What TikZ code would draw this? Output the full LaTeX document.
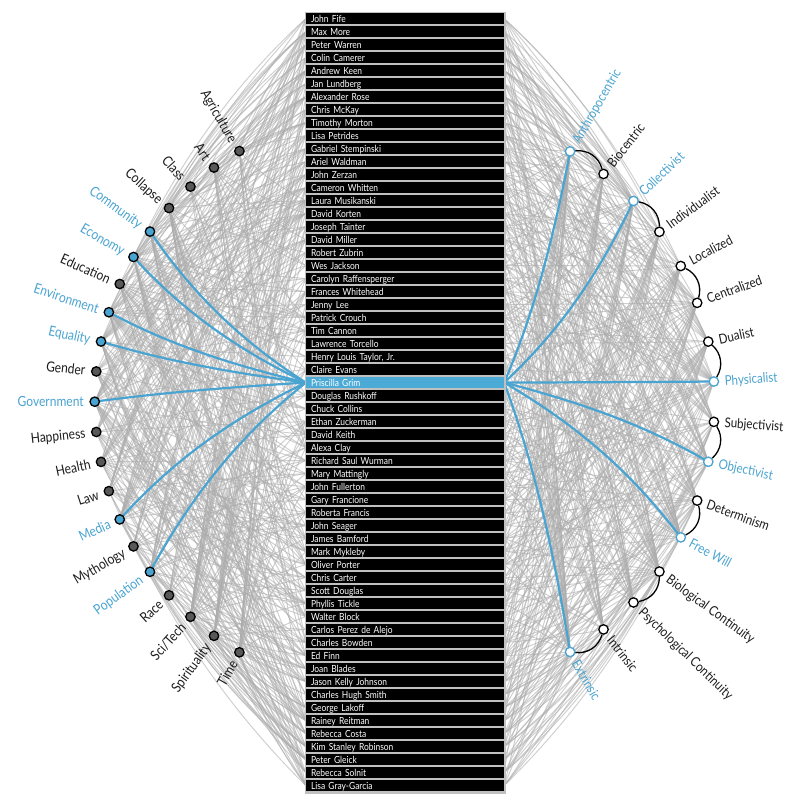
\documentclass[tikz,border=0pt]{standalone}
\usepackage{fontspec}
\setmainfont{Lato}[FakeStretch=0.86]
\usetikzlibrary{calc,backgrounds}
\definecolor{hub}{RGB}{74,164,209}
\definecolor{rowblue}{RGB}{76,170,214}
\definecolor{dotgrey}{RGB}{88,88,88}
\definecolor{ink}{RGB}{28,28,28}
\definecolor{framegrey}{RGB}{192,192,192}
\newcommand\edgelink[3]{\draw[#3] let \p1=(#1), \p2=(#2) in (\p1) .. controls ({\x1+0.28*(\x2-\x1)},{\y1+0.42*(\y2-\y1)}) and ({\x2-0.42*(\x2-\x1)},{\y2-0.28*(\y2-\y1)}) .. (\p2);}
\begin{document}
\begin{tikzpicture}[x=1pt,y=1pt,
  greyedge/.style={draw=black!32, line width=0.95pt, opacity=0.58},
  blueedge/.style={draw=hub, line width=2.2pt},
  rowbox/.style={text=white, minimum width=198pt, minimum height=11.4pt, text width=188pt, align=left, inner xsep=5pt, inner ysep=0pt, text height=6.9pt, text depth=0pt, font=\fontsize{9.8}{11}\selectfont},
  ldot/.style={circle, draw=black, line width=1.3pt, minimum size=9.4pt, inner sep=0pt},
  rdot/.style={circle, fill=white, line width=1.3pt, minimum size=9.4pt, inner sep=0pt},
  tlabel/.style={inner sep=0pt, text height=10pt, text depth=0pt, font=\fontsize{14}{16}\selectfont},
  rlabel/.style={inner sep=0pt, text height=9.6pt, text depth=0pt, font=\fontsize{13.5}{16}\selectfont},
  pairarc/.style={draw=black, line width=1.3pt}
]
\useasboundingbox (0,0) rectangle (805,806);
\def\CLx{384.1}\def\CRx{425.6}\def\Cy{404.3}
% name column
\fill[framegrey] (304.5,794) rectangle (505.5,12);
\foreach \nm [count=\i] in {John Fife, Max More, Peter Warren, Colin Camerer, Andrew Keen, Jan Lundberg, Alexander Rose, Chris McKay, Timothy Morton, Lisa Petrides, Gabriel Stempinski, Ariel Waldman, John Zerzan, Cameron Whitten, Laura Musikanski, David Korten, Joseph Tainter, David Miller, Robert Zubrin, Wes Jackson, Carolyn Raffensperger, Frances Whitehead, Jenny Lee, Patrick Crouch, Tim Cannon, Lawrence Torcello, {Henry Louis Taylor, Jr.}, Claire Evans, Priscilla Grim, Douglas Rushkoff, Chuck Collins, Ethan Zuckerman, David Keith, Alexa Clay, Richard Saul Wurman, Mary Mattingly, John Fullerton, Gary Francione, Roberta Francis, John Seager, James Bamford, Mark Mykleby, Oliver Porter, Chris Carter, Scott Douglas, Phyllis Tickle, Walter Block, Carlos Perez de Alejo, Charles Bowden, Ed Finn, Joan Blades, Jason Kelly Johnson, Charles Hugh Smith, George Lakoff, Rainey Reitman, Rebecca Costa, Kim Stanley Robinson, Peter Gleick, Rebecca Solnit, Lisa Gray-Garcia}{
  \pgfmathsetmacro\yy{787.4-13*(\i-1)}
  \ifnum\i=29 \def\rf{rowblue}\else\def\rf{black}\fi
  \node[rowbox, fill=\rf] (n\i) at (405,\yy) {\nm};
}
% left topics
\foreach \lab/\fc/\tc [count=\kk from 0] in {Agriculture/dotgrey/ink, Art/dotgrey/ink, Class/dotgrey/ink, Collapse/dotgrey/ink, Community/hub/hub, Economy/hub/hub, Education/dotgrey/ink, Environment/hub/hub, Equality/hub/hub, Gender/dotgrey/ink, Government/hub/hub, Happiness/dotgrey/ink, Health/dotgrey/ink, Law/dotgrey/ink, Media/hub/hub, Mythology/dotgrey/ink, Population/hub/hub, Race/dotgrey/ink, {Sci/Tech}/dotgrey/ink, Spirituality/dotgrey/ink, Time/dotgrey/ink}{
  \pgfmathsetmacro\ang{120+6*\kk}
  \node[ldot, fill=\fc] (t\kk) at ($(\CLx,\Cy)+(\ang:289.4)$) {};
  \node[tlabel, text=\tc, anchor=east, rotate=\ang-180] (tl\kk) at ($(\CLx,\Cy)+(\ang:300.2)$) {\lab};
}
% right topics
\foreach \lab/\sc/\tc [count=\jj from 0] in {Anthropocentric/hub/hub, Biocentric/black/ink, Collectivist/hub/hub, Individualist/black/ink, Localized/black/ink, Centralized/black/ink, Dualist/black/ink, Physicalist/hub/hub, Subjectivist/black/ink, Objectivist/hub/hub, Determinism/black/ink, Free Will/hub/hub, Biological Continuity/black/ink, Psychological Continuity/black/ink, Intrinsic/black/ink, Extrinsic/hub/hub}{
  \pgfmathsetmacro\ang{60-8*\jj}
  \node[rdot, draw=\sc] (s\jj) at ($(\CRx,\Cy)+(\ang:289)$) {};
  \node[rlabel, text=\tc, anchor=west, rotate=\ang] (sl\jj) at ($(\CRx,\Cy)+(\ang:299.6)$) {\lab};
}
\foreach \m in {0,...,7}{
  \pgfmathtruncatemacro\ja{2*\m}
  \pgfmathtruncatemacro\jb{2*\m+1}
  \draw[pairarc] (s\ja) to[bend left=40] (s\jb);
}
% connectors
\begin{scope}[on background layer]
\fill[white] (0,0) rectangle (805,806);
\pgfmathsetseed{2718}
\foreach \i in {1,...,60}{
 \ifnum\i=29\relax\else
  \foreach \k/\p in {0/.17,1/.13,2/.2,3/.3,4/.38,5/.42,6/.32,7/.44,8/.38,9/.28,10/.42,11/.28,12/.32,13/.28,14/.32,15/.26,16/.34,17/.24,18/.5,19/.4,20/.42}{
    \pgfmathtruncatemacro\flag{rnd<\p?1:0}
    \ifnum\flag=1 \edgelink{t\k}{n\i.west}{greyedge}\fi
  }
  \foreach \m in {0,...,7}{
    \pgfmathsetmacro\rv{rnd}
    \pgfmathtruncatemacro\ja{2*\m}
    \pgfmathtruncatemacro\jb{2*\m+1}
    \ifdim\rv pt<0.43pt \edgelink{s\ja}{n\i.east}{greyedge}\else
      \ifdim\rv pt<0.86pt \edgelink{s\jb}{n\i.east}{greyedge}\fi\fi
  }
 \fi
}
\foreach \k in {4,5,7,8,10,14,16}{\edgelink{t\k}{n29.west}{blueedge}}
\foreach \j in {0,2,7,9,11,15}{\edgelink{s\j}{n29.east}{blueedge}}
\end{scope}
\end{tikzpicture}
\end{document}
